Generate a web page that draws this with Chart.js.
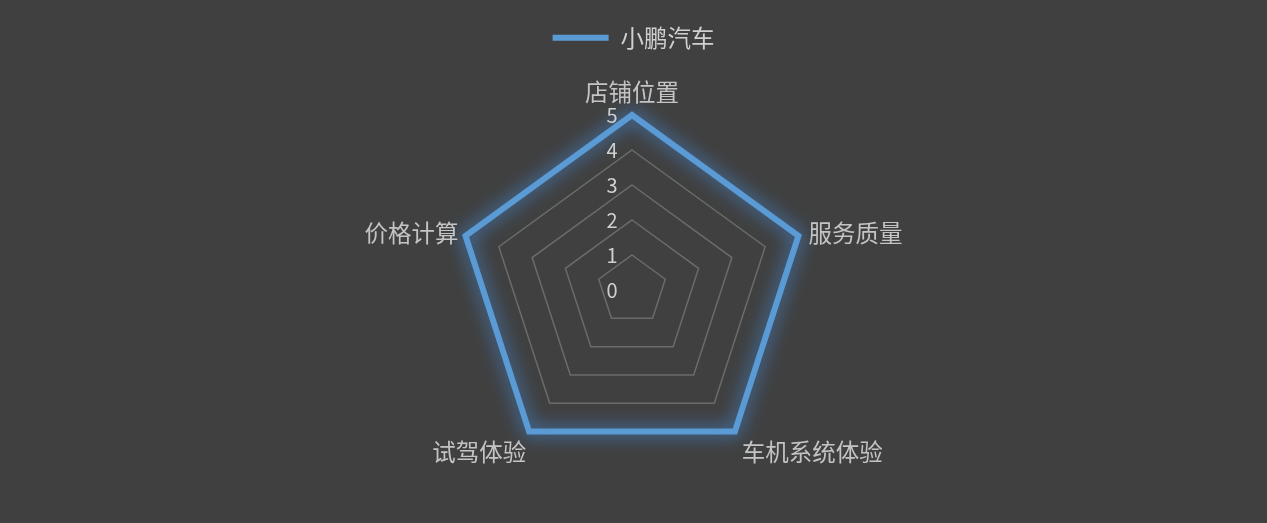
<!DOCTYPE html>
<html><head><meta charset="utf-8">
<script src="https://cdn.jsdelivr.net/npm/chart.js@4"></script>
<style>html,body{margin:0;padding:0;background:#404040;}#wrap{width:1267px;height:523px;}</style>
</head><body><div id="wrap"><canvas id="c" width="1267" height="523"></canvas></div>
<script>
const categories = ['店铺位置','服务质量','车机系统体验','试驾体验','价格计算'];
const seriesName = '小鹏汽车';
const seriesValues = [5,5,5,5,5];
const tickLabels = [0,1,2,3,4,5];

const FONT = '"Noto Sans CJK SC", "Noto Sans", sans-serif';
const LINE_COLOR = '#5b9bd5';

const glow = {
  id:'glow',
  beforeDatasetDraw(chart){ const ctx=chart.ctx; ctx.save(); ctx.shadowColor='rgba(70,150,240,1)'; ctx.shadowBlur=18; },
  afterDatasetDraw(chart){ chart.ctx.restore(); }
};

const labelsPlugin = {
  id:'labelsPlugin',
  afterDraw(chart){
    const s = chart.scales.r, ctx = chart.ctx;
    ctx.save();
    ctx.font = '23.5px ' + FONT;
    ctx.fillStyle = '#c4c4c4';
    const off = [
      {dx:0, dy:-23, a:'center'},
      {dx:10, dy:-3, a:'left'},
      {dx:7, dy:20, a:'left'},
      {dx:-3, dy:20, a:'right'},
      {dx:-7, dy:-3, a:'right'}
    ];
    categories.forEach((c,i)=>{
      const p = s.getPointPositionForValue(i, s.max);
      ctx.textAlign = off[i].a; ctx.textBaseline='middle';
      ctx.fillText(c, p.x+off[i].dx, p.y+off[i].dy);
    });
    ctx.font = '20px ' + FONT;
    ctx.fillStyle = '#d0d0d0';
    ctx.textAlign='center'; ctx.textBaseline='middle';
    tickLabels.forEach(t=>{
      const d = s.getDistanceFromCenterForValue(t);
      ctx.fillText(String(t), s.xCenter-20, s.yCenter-d);
    });
    ctx.restore();
  }
};

new Chart(document.getElementById('c'), {
  type:'radar',
  data:{ labels:categories, datasets:[{ label:seriesName, data:seriesValues, borderColor:LINE_COLOR, backgroundColor:LINE_COLOR, borderWidth:6, pointRadius:0, pointHoverRadius:0, pointStyle:'line', fill:false, borderCapStyle:'round', borderJoinStyle:'miter' }]},
  options:{
    responsive:false, animation:false, devicePixelRatio:1,
    layout:{padding:{top:12}},
    plugins:{
      legend:{ display:true, position:'top',
        labels:{ color:'#d0d0d0', font:{family:FONT, size:23.5}, usePointStyle:true, pointStyle:'line', pointStyleWidth:56, boxHeight:23, padding:14 } },
      tooltip:{enabled:false}
    },
    scales:{ r:{
      min:0, max:5,
      ticks:{ stepSize:1, display:false },
      grid:{ color:'#6b6b6b', lineWidth:1.5 },
      angleLines:{ display:false },
      pointLabels:{ display:false },
      afterFit(scale){ scale.xCenter = 632; scale.yCenter = 290; scale.drawingArea = 175; }
    }}
  },
  plugins:[glow, labelsPlugin]
});
</script></body></html>
